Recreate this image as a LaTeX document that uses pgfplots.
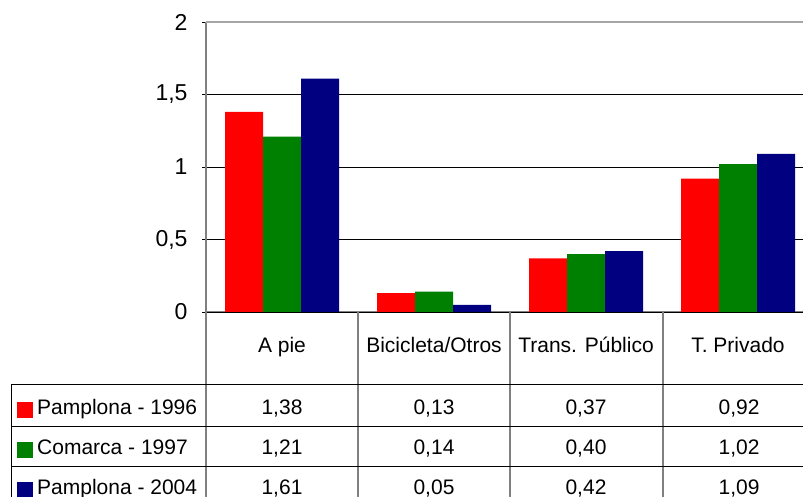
\documentclass[border=0pt]{standalone}
\usepackage{pgfplots}
\pgfplotsset{compat=1.18}
\usepackage{fontspec}
\setmainfont{Liberation Sans}

\definecolor{c96}{HTML}{FF0000}
\definecolor{c97}{HTML}{008000}
\definecolor{c04}{HTML}{000080}
\definecolor{rule}{HTML}{808080}

\newcommand{\tfont}{\fontsize{21bp}{25bp}\selectfont}
\newcommand{\yfont}{\fontsize{23bp}{27bp}\selectfont}

\begin{document}
\begin{tikzpicture}[x=1bp,y=-1bp,font=\tfont]
\path[use as bounding box] (0,0) rectangle (803,497);

\begin{axis}[
    at={(206bp,-312bp)}, anchor=south west,
    scale only axis,
    width=608bp, height=290bp,
    ybar=0pt, bar width=38bp,
    xmin=-0.5, xmax=3.5,
    ymin=0, ymax=2,
    xtick={0,1,2,3},
    xticklabels={A pie, Bicicleta/Otros, Trans. Público, T. Privado},
    x tick style={draw=none},
    xticklabel style={anchor=base, yshift=-36bp, font=\tfont},
    ytick={0,0.5,1,1.5,2},
    /pgf/number format/use comma,
    /pgf/number format/assume math mode=true,
    yticklabel style={font=\yfont, xshift=-11bp},
    tick align=outside,
    major tick length=8bp,
    y tick style={black, line width=0.8bp},
    ymajorgrids=true,
    grid style={black, line width=0.8bp},
    axis x line=bottom, axis y line=left,
    axis line style={-, rule, line width=1.2bp},
]
\addplot[fill=c96, draw=none] coordinates {(0,1.38) (1,0.13) (2,0.37) (3,0.92)};
\addplot[fill=c97, draw=none] coordinates {(0,1.21) (1,0.14) (2,0.40) (3,1.02)};
\addplot[fill=c04, draw=none] coordinates {(0,1.61) (1,0.05) (2,0.42) (3,1.09)};
\draw[rule!70, line width=1.5bp] (axis cs:-0.5,2) -- (axis cs:3.5,2);
\draw[black, line width=1bp] (axis cs:-0.5,0) -- (axis cs:3.5,0);
\end{axis}

% data table under the axis
\foreach \x in {206,358,510,663} \draw[rule, line width=1.2bp] (\x,312) -- (\x,500);
\draw[black, line width=1bp] (11,384) -- (11,500);
\foreach \y in {384,426,466} \draw[black, line width=1bp] (11,\y) -- (803,\y);

\fill[c96] (17,402) rectangle (33,418);
\fill[c97] (17,442) rectangle (33,458);
\fill[c04] (17,482) rectangle (33,498);
\node[anchor=base west, inner sep=0] at (37,414) {Pamplona - 1996};
\node[anchor=base west, inner sep=0] at (37,454) {Comarca - 1997};
\node[anchor=base west, inner sep=0] at (37,494) {Pamplona - 2004};

\foreach \x/\a/\b/\c in {282/{1,38}/{1,21}/{1,61}, 434/{0,13}/{0,14}/{0,05},
                         586/{0,37}/{0,40}/{0,42}, 739/{0,92}/{1,02}/{1,09}}{
  \node[anchor=base, inner sep=0] at (\x,414) {\a};
  \node[anchor=base, inner sep=0] at (\x,454) {\b};
  \node[anchor=base, inner sep=0] at (\x,494) {\c};
}
\end{tikzpicture}
\end{document}
